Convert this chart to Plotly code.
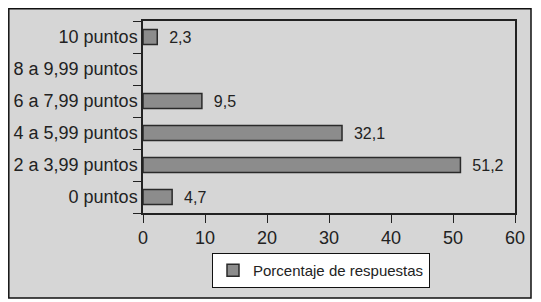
import plotly.graph_objects as go

categories = ["0 puntos", "2 a 3,99 puntos", "4 a 5,99 puntos", "6 a 7,99 puntos", "8 a 9,99 puntos", "10 puntos"]
values = [4.7, 51.2, 32.1, 9.5, None, 2.3]
series_name = "Porcentaje de respuestas"
x_ticks = [0, 10, 20, 30, 40, 50, 60]

FONT = "Liberation Sans, Arial, sans-serif"

fig = go.Figure()
fig.add_trace(go.Bar(
    y=categories,
    x=values,
    orientation="h",
    name=series_name,
    marker=dict(color="#8c8c8c", line=dict(color="#2a2a2a", width=1.5)),
    text=[("\u00a0\u00a0" + ("%.1f" % v).replace(".", ",")) if v is not None else "" for v in values],
    textposition="outside",
    constraintext="none",
    textfont=dict(family=FONT, size=16, color="#222"),
    cliponaxis=False,
    showlegend=True,
))

# page has an 8px body margin; the figure is laid out so that the plot lands
# at the reference pixel positions
OFF = 8
W, H = 541 - OFF, 302 - OFF
PL, PR, PT, PB = 143, 515, 21, 213   # plot area in page pixels
L, T = PL - OFF, PT - OFF
R, B = W - (PR - OFF), H - (PB - OFF)
pw, ph = PR - PL, PB - PT

def px_x(p):
    return (p - PL) / pw

def px_y(p):
    return (PB - p) / ph

fig.add_shape(type="rect", xref="paper", yref="paper",
              x0=px_x(OFF + 0.8), x1=px_x(531), y0=px_y(298), y1=px_y(OFF + 0.8),
              line=dict(color="#111", width=1.5), fillcolor="#d6d6d6", layer="below")

fig.update_layout(
    width=W, height=H,
    margin=dict(l=L, r=R, t=T, b=B, pad=0, autoexpand=False),
    paper_bgcolor="white",
    plot_bgcolor="white",
    font=dict(family=FONT, size=18, color="#222"),
    bargap=0.53,
    xaxis=dict(range=[0, 60], tickvals=x_ticks, ticks="outside", ticklen=8,
               tickcolor="#222", tickwidth=1.2, showline=True, linecolor="#222",
               linewidth=1.5, mirror=True, showgrid=False, zeroline=False,
               automargin=False, tickfont=dict(size=18, family=FONT)),
    yaxis=dict(categoryorder="array", categoryarray=categories, ticks="outside",
               tickson="boundaries", ticklen=8, tickcolor="#222", tickwidth=1.2,
               showline=True, linecolor="#222", linewidth=1.5, mirror=True,
               showgrid=False, automargin=False, tickfont=dict(size=18, family=FONT)),
    legend=dict(x=px_x(212), y=px_y(253), xanchor="left", yanchor="top",
                bgcolor="white", bordercolor="#111", borderwidth=1,
                font=dict(family=FONT, size=15, color="#222"),
                orientation="h"),
)

fig.write_html("out.html")
